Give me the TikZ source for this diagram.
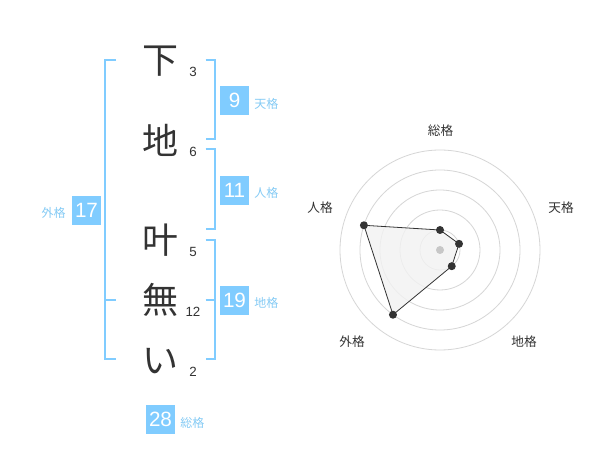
\documentclass[tikz,border=0pt]{standalone}
\usepackage{fontspec}
\usetikzlibrary{calc}
\setmainfont{Liberation Sans}
\newfontfamily\jp{Noto Sans CJK JP}
\definecolor{kblue}{HTML}{80CCFF}
\definecolor{klabel}{HTML}{85CBF5}
\definecolor{kdark}{HTML}{333333}
\definecolor{kgrid}{HTML}{D6D6D6}
\begin{document}
\begin{tikzpicture}[x=0.75pt,y=-0.75pt,
  bigchar/.style={font=\jp\fontsize{27pt}{27pt}\selectfont,text=kdark,inner sep=0pt},
  strokenum/.style={font=\fontsize{10pt}{10pt}\selectfont,text=kdark,inner sep=0pt},
  numbox/.style={fill=kblue,text=white,minimum width=21.75pt,minimum height=21.75pt,inner sep=0pt,font=\fontsize{15.5pt}{15.5pt}\selectfont},
  kaku/.style={font=\jp\fontsize{9pt}{9pt}\selectfont,text=klabel,inner sep=0pt},
  bracket/.style={draw=kblue,line width=1.5pt},
  grid/.style={draw=kgrid,line width=0.6pt},
  radlabel/.style={font=\jp\fontsize{9.5pt}{9.5pt}\selectfont,text=kdark,inner sep=0pt},
  dot/.style={circle,fill=kdark,inner sep=0pt,minimum size=6pt}]
\useasboundingbox[fill=white] (0,0) rectangle (600,470);
% characters
\node[bigchar] (c1) at (160,61) {下};
\node[bigchar] (c2) at (160,140) {地};
\node[bigchar] (c3) at (160,240) {叶};
\node[bigchar] (c4) at (160,300) {無};
\node[bigchar] (c5) at (160,361) {い};
\node[strokenum] (s1) at (193,72) {3};
\node[strokenum] (s2) at (193,152) {6};
\node[strokenum] (s3) at (193,252) {5};
\node[strokenum] (s4) at (193,312) {12};
\node[strokenum] (s5) at (193,372) {2};
% brackets
\draw[bracket] (116,60) -- (105,60) -- (105,359.5) -- (116,359.5);
\draw[bracket] (105,300) -- (116,300);
\draw[bracket] (205.5,60) -- (214.5,60) -- (214.5,139.5) -- (205.5,139.5);
\draw[bracket] (205.5,149.5) -- (214.5,149.5) -- (214.5,229.5) -- (205.5,229.5);
\draw[bracket] (205.5,240) -- (214.5,240) -- (214.5,359.5) -- (205.5,359.5);
\draw[bracket] (205.5,300) -- (214.5,300);
% boxes
\node[numbox] (b9) at (234.5,100.5) {9};
\node[kaku,anchor=west] (l9) at (254,104) {天格};
\node[numbox] (b11) at (234.5,190.5) {11};
\node[kaku,anchor=west] (l11) at (254,193) {人格};
\node[numbox] (b17) at (86.5,210.5) {17};
\node[kaku,anchor=east] (l17) at (66,213) {外格};
\node[numbox] (b19) at (234.5,300.5) {19};
\node[kaku,anchor=west] (l19) at (254,303) {地格};
\node[numbox] (b28) at (160.5,419.5) {28};
\node[kaku,anchor=west] (l28) at (180,423) {総格};
% radar
\coordinate (ctr) at (440,250);
\foreach \r in {20,40,60,80,100} \draw[grid] (ctr) circle[radius=\r];
\coordinate (pS) at ($(ctr)+(-90:20)$);
\coordinate (pT) at ($(ctr)+(-18:20)$);
\coordinate (pC) at ($(ctr)+(54:20)$);
\coordinate (pG) at ($(ctr)+(126:80)$);
\coordinate (pJ) at ($(ctr)+(198:80)$);
\draw[fill=black!5,fill opacity=0.8,draw=kdark,line width=0.6pt] (pS) -- (pT) -- (pC) -- (pG) -- (pJ) -- cycle;
\fill[black!22] (ctr) circle[radius=4];
\foreach \p in {pS,pT,pC,pG,pJ} \node[dot] at (\p) {};
\node[radlabel] (rS) at (440.5,130.5) {総格};
\node[radlabel] (rT) at (561,208) {天格};
\node[radlabel] (rJ) at (320,208) {人格};
\node[radlabel] (rG) at (352,342) {外格};
\node[radlabel] (rC) at (524,342) {地格};
\end{tikzpicture}
\end{document}
